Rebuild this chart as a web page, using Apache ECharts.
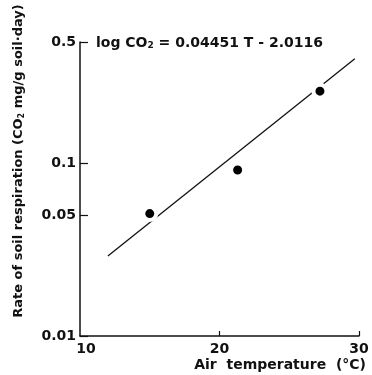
<!DOCTYPE html>
<html><head><meta charset="utf-8">
<script src="https://cdn.jsdelivr.net/npm/echarts@6/dist/echarts.min.js"></script>
<style>html,body{margin:0;padding:0;background:#fff}#c{width:372px;height:375px}</style>
</head><body><div id="c"></div>
<script>
const temps = [15.0, 21.3, 27.2];
const rates = [0.051, 0.091, 0.26];
const fitT = [12.0, 29.7];
const fitRate = [0.029, 0.40];
const yTicks = [0.01, 0.05, 0.1, 0.5];
const xTicks = [10, 20, 30];
const titleText = 'log CO{s|2} = 0.04451 T - 2.0116';
const yName = 'Rate of soil respiration (CO{s|2} mg/g soil·day)';
const xName = 'Air  temperature  (°C)';

const FONT = '"DejaVu Sans", sans-serif';
const chart = echarts.init(document.getElementById('c'));
chart.setOption({
  animation: false,
  backgroundColor: '#fff',
  grid: {left: 80, right: 13, top: 42, bottom: 39},
  xAxis: {
    type: 'value', min: 10, max: 30, interval: 10,
    axisLine: {lineStyle: {color: '#111', width: 1.5}},
    axisTick: {show: true, inside: true, length: 5, customValues: xTicks.slice(1), lineStyle: {color: '#111', width: 1.2}},
    splitLine: {show: false},
    axisLabel: {
      customValues: xTicks, margin: 6, color: '#111', fontFamily: FONT, fontSize: 14, fontWeight: 'bold',
      formatter: v => v === 10 ? '{f|10}' : String(v),
      rich: {f: {padding: [0, 0, 0, 12], fontFamily: FONT, fontSize: 14, fontWeight: 'bold', color: '#111'}}
    }
  },
  yAxis: {
    type: 'log', logBase: 10, min: 0.01, max: 0.5,
    axisLine: {show: true, lineStyle: {color: '#111', width: 1.5}},
    axisTick: {show: true, inside: true, length: 8, customValues: yTicks, lineStyle: {color: '#111', width: 1.2}},
    splitLine: {show: false},
    minorTick: {show: false},
    axisLabel: {customValues: yTicks, margin: 4, color: '#111', fontFamily: FONT, fontSize: 14, fontWeight: 'bold',
      formatter: v => String(v)}
  },
  graphic: [
    {type: 'text', left: 96, top: 36, style: {text: titleText, fill: '#111', font: 'bold 14px ' + FONT,
      rich: {s: {fontSize: 9, fontWeight: 'bold', fontFamily: FONT, fill: '#111', verticalAlign: 'bottom'}}}},
    {type: 'text', x: 19, y: 161, rotation: Math.PI / 2, style: {text: yName, fill: '#111', font: 'bold 13px ' + FONT,
      align: 'center', verticalAlign: 'middle',
      rich: {s: {fontSize: 8, fontWeight: 'bold', fontFamily: FONT, fill: '#111', verticalAlign: 'bottom'}}}},
    {type: 'text', x: 366, y: 365, style: {text: xName, fill: '#111', font: 'bold 14px ' + FONT, align: 'right', verticalAlign: 'middle'}}
  ],
  series: [
    {type: 'line', data: fitT.map((t, i) => [t, fitRate[i]]), symbol: 'none', z: 2,
      lineStyle: {color: '#111', width: 1.3}},
    {type: 'scatter', data: temps.map((t, i) => [t, rates[i]]), symbol: 'circle', symbolSize: 13, z: 3,
      itemStyle: {color: '#000', borderColor: '#fff', borderWidth: 4, opacity: 1}}
  ]
});
</script></body></html>
